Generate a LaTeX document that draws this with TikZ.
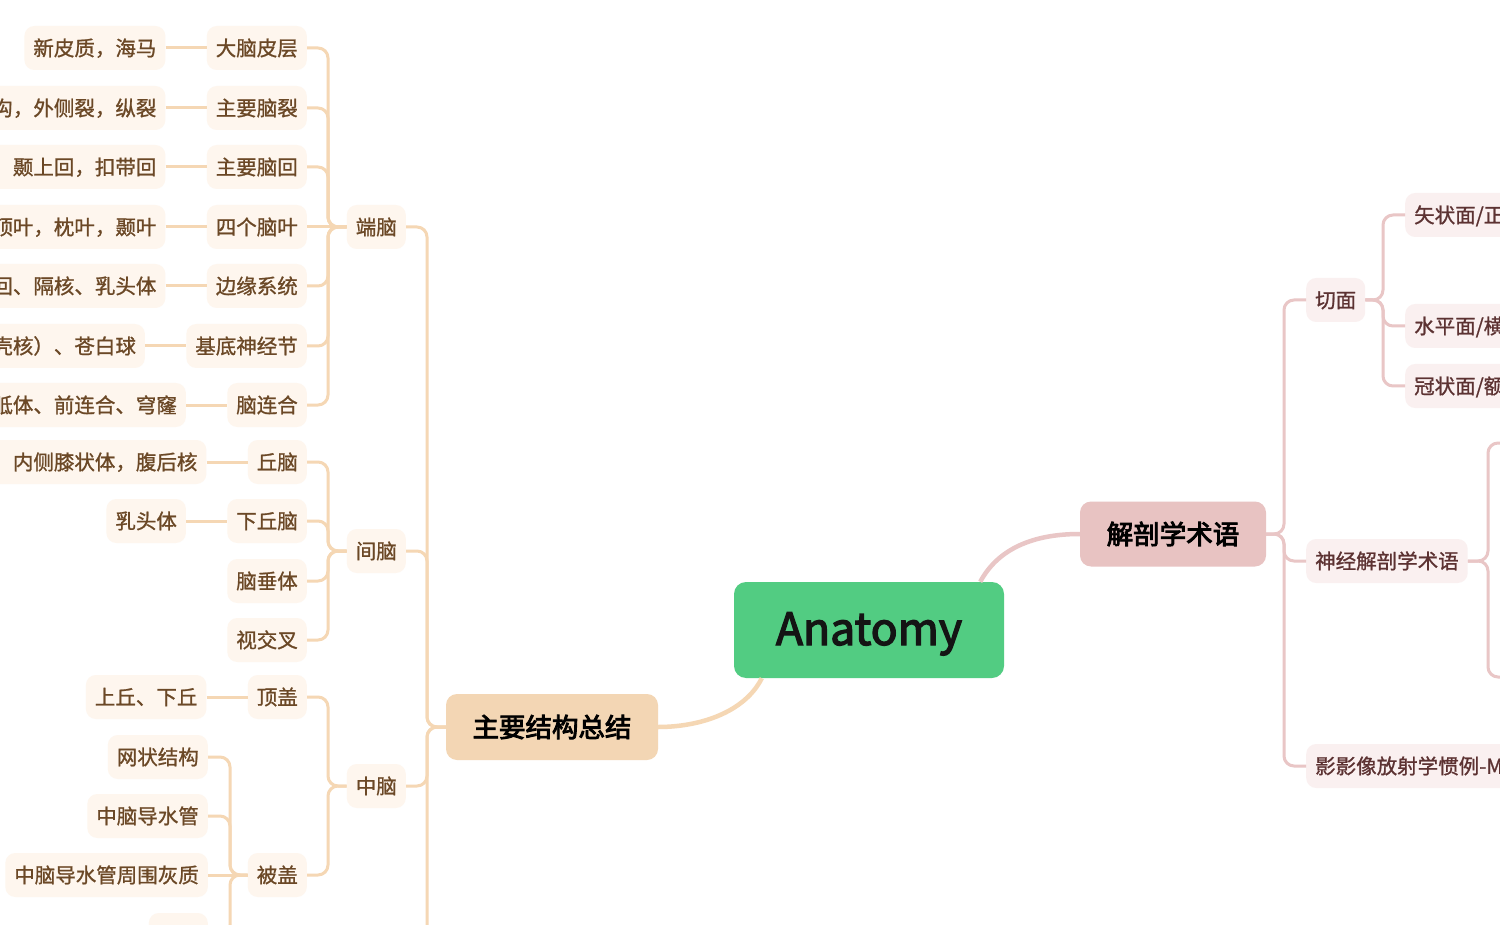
\documentclass[tikz,border=0pt]{standalone}
\usepackage{fontspec}
\setmainfont{Noto Sans CJK SC}
\newcommand\strk[2]{\special{pdf:literal direct 2 Tr #1 w}#2\special{pdf:literal direct 0 Tr}}
\usetikzlibrary{calc}
\definecolor{rootgreen}{RGB}{82,204,130}
\definecolor{lmainfill}{RGB}{243,214,180}
\definecolor{rmainfill}{RGB}{232,195,194}
\definecolor{llinecol}{RGB}{245,215,180}
\definecolor{rlinecol}{RGB}{233,198,198}
\definecolor{lboxfill}{RGB}{254,246,238}
\definecolor{rboxfill}{RGB}{250,240,240}
\definecolor{ltextcol}{RGB}{107,72,38}
\definecolor{rtextcol}{RGB}{92,50,50}
\tikzset{
  rootbox/.style={fill=rootgreen, rounded corners=12pt, inner sep=0pt, minimum width=270pt, minimum height=96pt,
    font=\fontsize{44.5}{50}\selectfont, text=black!92, text height=30pt, text depth=0pt},
  lmain/.style={fill=lmainfill, rounded corners=11pt, inner sep=0pt, minimum width=212pt, minimum height=66pt,
    font=\fontsize{26.5}{30}\selectfont, text=black, text height=23.3pt, text depth=3.2pt},
  rmain/.style={fill=rmainfill, rounded corners=11pt, inner sep=0pt, minimum width=186pt, minimum height=65pt,
    font=\fontsize{26.5}{30}\selectfont, text=black, text height=23.3pt, text depth=3.2pt},
  medtext/.style={execute at begin node={\special{pdf:literal direct 2 Tr 0.22 w}},
    execute at end node={\special{pdf:literal direct 0 Tr}}},
  lnode/.style={fill=lboxfill, rounded corners=10pt, inner xsep=9pt, inner ysep=0pt, minimum height=44pt,
    font=\fontsize{20.5}{24}\selectfont, text=ltextcol, text height=18pt, text depth=2.5pt, anchor=east, medtext},
  rnode/.style={fill=rboxfill, rounded corners=10pt, inner xsep=9pt, inner ysep=0pt, minimum height=44pt,
    font=\fontsize{20.5}{24}\selectfont, text=rtextcol, text height=18pt, text depth=2.5pt, anchor=west, medtext},
  lline/.style={draw=llinecol, line width=3pt, rounded corners=10pt},
  rline/.style={draw=rlinecol, line width=3pt, rounded corners=10pt},
  lcurve/.style={draw=llinecol, line width=4.5pt},
  rcurve/.style={draw=rlinecol, line width=4.5pt},
}
\begin{document}
\begin{tikzpicture}[x=1pt,y=-1pt]
\useasboundingbox (0,0) rectangle (1500,925);
\clip (0,0) rectangle (1500,925);
\fill[white] (0,0) rectangle (1500,925);

% trunk x positions
\coordinate (T0) at (427,0);
\coordinate (T1) at (328,0);
\coordinate (T2) at (230,0);
\coordinate (T3) at (1284,0);
\coordinate (T4) at (1383,0);
\coordinate (T5) at (1488,0);

% main nodes
\node[rootbox] (root) at (869,630) {\strk{1.3}{Anatomy}};
\node[lmain] (m1) at (552,727) {\strk{0.9}{主要结构总结}};
\node[rmain] (m2) at (1173,534) {\strk{0.9}{解剖学术语}};

% level 2 (left)
\node[lnode] (dn) at (406,227) {端脑};
\node[lnode] (jn) at (406,551) {间脑};
\node[lnode] (zn) at (406,786) {中脑};
\coordinate (more) at (406,1010);

% level 3 under 端脑
\node[lnode] (a1) at (307,48) {大脑皮层};
\node[lnode] (a2) at (307,108) {主要脑裂};
\node[lnode] (a3) at (307,167) {主要脑回};
\node[lnode] (a4) at (307,227) {四个脑叶};
\node[lnode] (a5) at (307,286) {边缘系统};
\node[lnode] (a6) at (307,346) {基底神经节};
\node[lnode] (a7) at (307,405) {脑连合};
% leaves
\node[lnode] (b1) at ($(a1.west)+(-41,0)$) {新皮质，海马};
\node[lnode] (b2) at ($(a2.west)+(-41,0)$) {中央沟，外侧裂，纵裂};
\node[lnode] (b3) at ($(a3.west)+(-41,0)$) {中央前回，中央后回，颞上回，扣带回};
\node[lnode] (b4) at ($(a4.west)+(-41,0)$) {额叶，顶叶，枕叶，颞叶};
\node[lnode] (b5) at ($(a5.west)+(-41,0)$) {海马、扣带回、隔核、乳头体};
\node[lnode] (b6) at ($(a6.west)+(-41,0)$) {纹状体（尾状核、壳核）、苍白球};
\node[lnode] (b7) at ($(a7.west)+(-41,0)$) {胼胝体、前连合、穹窿};

% level 3 under 间脑
\node[lnode] (c1) at (307,462) {丘脑};
\node[lnode] (c2) at (307,521) {下丘脑};
\node[lnode] (c3) at (307,581) {脑垂体};
\node[lnode] (c4) at (307,640) {视交叉};
\node[lnode] (d1) at ($(c1.west)+(-41,0)$) {外侧膝状体，内侧膝状体，腹后核};
\node[lnode] (d2) at ($(c2.west)+(-41,0)$) {乳头体};

% level 3 under 中脑
\node[lnode] (e1) at (307,697) {顶盖};
\node[lnode] (e2) at (307,875) {被盖};
\node[lnode] (f1) at ($(e1.west)+(-41,0)$) {上丘、下丘};
\node[lnode] (g1) at (208,757) {网状结构};
\node[lnode] (g2) at (208,816) {中脑导水管};
\node[lnode] (g3) at (208,875) {中脑导水管周围灰质};
\node[lnode] (g4) at (208,935) {红核};

% right side
\node[rnode] (r1) at (1306,300) {切面};
\node[rnode] (r2) at (1306,561) {神经解剖学术语};
\node[rnode] (r3) at (1306,766) {影影像放射学惯例-MRI};
\node[rnode] (s1) at (1405,215) {矢状面/正中矢状面};
\node[rnode] (s2) at (1405,326) {水平面/横断面};
\node[rnode] (s3) at (1405,386) {冠状面/额状面};
\coordinate (n1) at (1530,443);
\coordinate (n2) at (1530,677);

% main curves
\draw[lcurve] ([xshift=28pt]root.south west) .. controls ([xshift=11pt,yshift=-34pt]root.south west) and ([xshift=42pt]m1.east) .. (m1.east);
\draw[rcurve] ([xshift=-24pt]root.north east) .. controls ([xshift=-4pt,yshift=37pt]root.north east) and ([xshift=-40pt]m2.west) .. (m2.west);

% left level 2 connectors
\foreach \c in {dn,jn,zn,more}{
  \draw[lline] (\c.east) -| (T0 |- m1.west) -- (m1.west);
}
% level 3 connectors
\foreach \c in {a1,a2,a3,a5,a6,a7}{
  \draw[lline] (\c.east) -| (T1 |- dn.west) -- (dn.west);
}
\draw[lline] (a4.east) -- (dn.west);
\foreach \c in {c1,c2,c3,c4}{
  \draw[lline] (\c.east) -| (T1 |- jn.west) -- (jn.west);
}
\foreach \c in {e1,e2}{
  \draw[lline] (\c.east) -| (T1 |- zn.west) -- (zn.west);
}
% leaves
\draw[lline] (b1.east) -- (a1.west);
\draw[lline] (b2.east) -- (a2.west);
\draw[lline] (b3.east) -- (a3.west);
\draw[lline] (b4.east) -- (a4.west);
\draw[lline] (b5.east) -- (a5.west);
\draw[lline] (b6.east) -- (a6.west);
\draw[lline] (b7.east) -- (a7.west);
\draw[lline] (d1.east) -- (c1.west);
\draw[lline] (d2.east) -- (c2.west);
\draw[lline] (f1.east) -- (e1.west);
\foreach \c in {g1,g2,g4}{
  \draw[lline] (\c.east) -| (T2 |- e2.west) -- (e2.west);
}
\draw[lline] (g3.east) -- (e2.west);

% right connectors
\foreach \c in {r1,r2,r3}{
  \draw[rline] (m2.east) -| (T3 |- \c.west) -- (\c.west);
}
\foreach \c in {s1,s2,s3}{
  \draw[rline] (r1.east) -| (T4 |- \c.west) -- (\c.west);
}
\draw[rline] (r2.east) -| (T5 |- n1) -- (n1);
\draw[rline] (r2.east) -| (T5 |- n2) -- (n2);
\end{tikzpicture}
\end{document}
